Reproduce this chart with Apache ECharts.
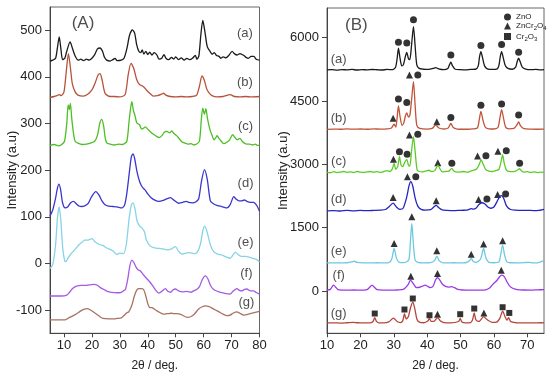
<!DOCTYPE html>
<html><head><meta charset="utf-8">
<script src="https://cdn.jsdelivr.net/npm/echarts@6/dist/echarts.min.js"></script>
<style>html,body{margin:0;padding:0;background:#fff}#c{width:550px;height:377px}</style>
</head><body><div id="c"></div>
<script>
// ---------- Panel A data ----------
const A_a = [[5,434],[6,436],[7,440],[7.6,460],[8.3,486],[8.9,460],[9.5,437],[10.3,440],[11,455],[12.2,475],[13,462],[14,445],[15.2,436],[16,438],[17,435],[18,438],[19,436],[20,440],[21,448],[22,460],[22.9,462],[23.8,455],[24.5,442],[25.3,436],[26.5,434],[27.5,437],[28.3,440],[29,435],[30.5,436],[31.5,440],[32.5,460],[33.5,490],[34.5,501],[35.3,494],[36,470],[36.8,455],[37.5,452],[38,458],[38.6,449],[39.3,455],[40,448],[40.7,453],[41.5,447],[42.3,452],[43.3,447],[44,438],[45,440],[45.8,448],[46.5,440],[47.5,437],[48.5,442],[49.3,438],[50,443],[51,437],[52,441],[53,436],[54,440],[55,437],[56,440],[57,446],[57.6,438],[58.3,445],[59,490],[59.7,521],[60.5,495],[61.3,465],[62.4,454],[63,449],[63.8,452],[64.6,446],[65.5,444],[66.2,440],[67,443],[68,441],[69,446],[70.2,455],[71,450],[72,447],[73,450],[74.4,446],[75.2,442],[76,440],[77,444],[78,444],[78.8,438],[80,436]];
const A_b = [[5,356],[6.5,358],[7.5,360],[8.3,362],[9,360],[10,368],[10.8,410],[11.6,450],[12.3,420],[13,385],[14,368],[15,361],[16.9,359],[18.5,363],[20,372],[21.1,386],[22.2,404],[22.9,407],[23.6,395],[24.7,365],[26.5,358],[28,358],[30,357],[31.9,362],[33,405],[34,429],[35,418],[36,395],[37,384],[38.5,379],[39.5,372],[40.9,364],[42,359],[43.5,360],[45,363],[45.6,365],[46.5,361],[48,358],[50,357],[52,358],[54,357],[56,358],[57.5,361],[58.5,380],[59.4,402],[60.3,392],[61,376],[61.8,367],[63,360],[64.8,357],[67,358],[69.5,362],[71,358],[73,357],[75,358],[77,357],[80,358]];
const A_c = [[5,253],[6.5,255],[8,252],[9.2,255],[10.2,262],[11,300],[11.5,340],[11.9,330],[12.3,343],[12.8,310],[13.5,275],[14,262],[15,258],[16.5,255],[18.1,256],[19.5,258],[21,262],[22,275],[22.8,300],[23.5,309],[24.2,295],[24.8,268],[25.4,258],[26.5,256],[28,254],[29.5,256],[31,255],[32.5,262],[33.3,305],[33.9,335],[34.3,347],[34.8,330],[35.5,315],[36.1,301],[37,298],[37.8,288],[38.5,290],[39.1,293],[40,288],[41,282],[42,277],[43.3,272],[44.2,270],[45.2,275],[46,282],[46.9,283],[47.8,280],[48.6,284],[49.3,279],[50.3,274],[51.2,268],[52.2,261],[53.3,258],[54.5,256],[55.5,257],[56.4,254],[57.5,256],[58.5,262],[59.2,310],[59.7,333],[60.3,320],[60.8,332],[61.4,310],[62.3,286],[63,275],[63.7,265],[64.4,270],[64.8,274],[65.5,268],[66.3,262],[67.2,257],[68.3,260],[69.3,265],[70.4,276],[71.2,270],[72,265],[73,268],[73.8,262],[74.6,258],[75.5,256],[76.5,256],[77.5,254],[78.5,256],[79.3,253],[80,253]];
const A_d = [[5,101],[6,115],[7,140],[7.6,160],[8.2,170],[8.8,158],[9.5,130],[10.4,119],[11.3,121],[12.4,130],[13.4,133],[14.4,128],[15.4,123],[16.4,122],[17.6,124],[18.6,128],[19.8,142],[21.4,154],[22.6,146],[23.6,134],[24.7,126],[26,123],[27.5,122],[29,121],[30.7,119],[31.7,125],[32.5,150],[33.5,200],[34.1,228],[34.7,235],[35.3,225],[36.2,195],[37.1,175],[37.9,165],[38.6,160],[39.1,157],[40,149],[41,142],[42.7,135],[44,133],[45.5,135],[47,139],[48.1,141],[49.5,135],[51,129],[52.5,131],[53.8,133],[54.6,131],[56,130],[57,131],[58.2,138],[59.2,175],[60.3,201],[61.3,180],[62.4,134],[63.5,128],[65,124],[66.5,122],[68.4,119],[69.5,126],[70.8,143],[71.6,138],[72.6,134],[73.6,134],[74.6,136],[75.5,133],[76.7,131],[77.9,131],[78.8,126],[79.4,120],[80,112]];
const A_e = [[5,-11],[6,-2],[7,40],[7.7,100],[8.3,121],[8.9,90],[9.6,30],[10.3,5],[10.7,4],[11.5,12],[12.4,20],[13.4,26],[14.4,33],[15.4,40],[16.4,45],[17.4,50],[18.6,50],[20,53],[21.2,46],[22.9,40],[24.1,38],[25.3,33],[26.5,30],[27.7,26],[28.9,19],[30,22],[31.3,21],[32.3,40],[33.3,95],[34.1,125],[34.7,130],[35.4,118],[36.2,90],[37.1,80],[37.9,76],[38.8,68],[39.5,50],[40.9,37],[42.5,33],[44,32],[45.6,31],[47,29],[48.5,31],[49.9,36],[51,26],[52.2,20],[53.5,22],[55,23],[56.5,21],[57.6,23],[58.8,40],[59.7,70],[60.4,80],[61.2,68],[62.4,40],[63.6,25],[65,20],[66.5,18],[68,14],[69.5,11],[70.5,18],[71.4,24],[72.4,19],[73.5,15],[74.9,15],[76.5,13],[78,10],[79,8],[80,3]];
const A_f = [[5,-70],[7,-70],[9,-70],[11,-68],[12,-62],[13.1,-54],[14.5,-49],[16,-47],[18,-47],[19.5,-46],[20.7,-45],[22,-47],[23,-52],[24.3,-56],[25.5,-60],[27,-62],[29,-63],[30.5,-62],[31.5,-58],[32,-56],[32.8,-35],[33.6,-5],[34.3,7],[35,2],[35.8,-8],[36.6,-14],[37.3,-16],[38.5,-25],[39.7,-33],[40.9,-41],[42.2,-52],[43.2,-60],[43.9,-64],[45,-60],[46.3,-54],[47.2,-60],[48.1,-62],[49,-57],[49.9,-55],[51,-59],[52.5,-61],[54,-60],[55.5,-62],[56.4,-59],[57.5,-56],[58.5,-50],[59.5,-35],[60.6,-27],[61.5,-33],[62.5,-48],[63.6,-56],[65,-60],[66.5,-63],[68,-65],[69.5,-66],[70.5,-60],[71.9,-54],[72.8,-58],[73.7,-59],[74.6,-56],[75.5,-55],[76.7,-59],[77.8,-59],[79,-63],[80,-66]];
const A_g = [[5,-121],[7,-121],[9,-121],[10.4,-121],[12,-116],[14,-110],[16,-102],[17.3,-98],[18.2,-97],[19.5,-100],[20.7,-105],[21.7,-109],[23,-115],[24,-118],[26,-119],[28,-119],[29,-118],[30.5,-117],[31.5,-112],[32.5,-106],[33.2,-104],[34.3,-90],[35.2,-70],[36,-58],[36.7,-54],[37.6,-54],[38.5,-56],[39.3,-70],[40.2,-90],[40.9,-95],[41.5,-95],[42.3,-98],[43.3,-102],[44.5,-106],[45.6,-109],[47,-108],[48.5,-107],[49.3,-108],[50.5,-108],[52,-110],[54.1,-116],[55.5,-114],[56.8,-108],[58.2,-98],[59.5,-93],[60.6,-91],[62,-93],[63,-96],[64.2,-100],[65.5,-104],[67,-109],[68.4,-112],[69.5,-111],[70.5,-107],[71.9,-104],[73,-107],[74.3,-111],[75.5,-110],[77,-107],[78.5,-105],[80,-103]];

// ---------- Panel B data ----------
const B_a = [[10,5234],[11.5,5240],[13,5228],[14.5,5240],[16,5236],[17.5,5245],[19,5232],[20.5,5240],[22,5236],[23.5,5244],[25,5238],[26.5,5232],[28,5245],[29.5,5240],[30.5,5290],[31,5500],[31.4,5749],[31.9,5500],[32.4,5330],[32.9,5360],[33.5,5560],[33.9,5647],[34.4,5500],[34.8,5480],[35.3,5800],[35.9,6261],[36.4,5800],[36.9,5355],[37.6,5270],[38.9,5250],[40.5,5245],[41.8,5270],[42.6,5290],[43.4,5260],[45,5240],[46.2,5270],[46.7,5360],[47.1,5416],[47.6,5330],[48.4,5250],[50,5240],[51.5,5236],[53,5245],[54.5,5250],[55.3,5330],[55.7,5550],[56.1,5668],[56.6,5520],[57.2,5330],[58,5260],[59.5,5245],[61,5260],[61.5,5340],[61.9,5550],[62.3,5668],[62.8,5520],[63.4,5340],[64.2,5270],[65.5,5250],[66.5,5300],[67,5440],[67.4,5510],[67.9,5420],[68.5,5300],[69.5,5255],[71,5240],[72.5,5245],[74,5236],[75,5240]];
const B_b = [[10,3829],[12,3835],[14,3830],[16,3838],[18,3832],[20,3836],[22,3830],[24,3838],[26,3834],[28,3840],[29.3,3860],[30.1,3950],[30.6,3880],[31,4100],[31.4,4381],[31.9,4120],[32.5,3920],[33,3980],[33.5,4150],[33.9,4215],[34.4,4120],[34.8,4150],[35.3,4500],[35.9,4957],[36.4,4400],[36.9,3920],[37.8,3850],[39.9,3832],[41.5,3850],[42.6,3929],[43.5,3860],[45,3836],[46.3,3860],[47.1,3966],[47.8,3870],[49,3835],[51,3830],[53,3835],[55,3860],[55.6,4050],[56.1,4255],[56.7,4050],[57.4,3880],[58.5,3840],[60,3836],[61.2,3870],[61.8,4100],[62.3,4294],[62.9,4080],[63.5,3880],[64.5,3840],[66,3850],[66.8,3920],[67.4,4002],[68,3910],[69,3845],[71,3832],[73,3830],[75,3832]];
const B_c = [[10,2810],[11,2800],[12,2825],[13,2805],[14,2815],[15,2830],[16,2810],[17,2820],[18,2805],[19,2830],[20,2815],[21,2808],[22,2822],[23,2830],[24,2812],[25,2826],[26,2810],[27,2830],[28,2850],[28.8,2830],[29.5,2880],[30.1,3023],[30.6,2880],[31.2,2950],[31.7,3181],[32.2,2980],[32.7,2944],[33.3,3050],[33.9,3118],[34.4,2980],[34.8,2960],[35.3,3300],[35.9,3654],[36.4,3300],[37,2860],[37.6,2830],[38.5,2820],[39.5,2840],[40.5,2860],[41.3,2830],[42.3,2850],[43.2,2983],[43.8,2900],[44.5,2820],[45.5,2830],[46.5,2840],[47.4,2904],[48,2840],[49,2815],[50,2820],[51,2830],[52,2810],[53,2840],[54,2860],[54.8,2890],[55.5,2980],[56.2,3102],[56.8,3000],[57.5,2880],[58.5,2840],[59.5,2830],[60.5,2850],[61.5,2880],[62.1,3050],[62.6,3220],[63.1,3020],[63.7,2870],[64.5,2830],[65.5,2825],[66.5,2840],[67.2,2870],[67.6,2900],[68.2,2850],[69,2815],[70,2825],[71,2810],[72,2820],[73,2805],[74,2815],[75,2810]];
const B_d = [[10,1900],[12,1905],[14,1895],[16,1908],[18,1900],[20,1910],[22,1902],[24,1908],[26,1915],[27.5,1930],[28.5,1990],[29.8,2080],[30.8,1990],[31.8,1935],[32.8,1960],[33.8,2200],[34.6,2500],[35.1,2590],[35.7,2480],[36.4,2200],[37.2,2010],[38.2,1935],[39.5,1915],[41,1925],[42,1990],[42.7,2030],[43.5,1970],[44.5,1920],[46,1910],[48,1905],[50,1912],[52,1915],[53.2,1950],[53.8,1940],[54.6,1960],[55.5,2050],[56.4,2090],[57.3,2060],[58.2,1990],[59,1960],[60,1990],[61,2130],[61.8,2240],[62.3,2260],[63,2180],[63.8,2010],[65,1930],[66.5,1915],[68,1908],[70,1912],[72,1905],[73.5,1910],[74.5,1925],[75,1935]];
const B_e = [[10,665],[12,668],[14,665],[16,670],[17.5,690],[18.2,705],[19,680],[21,668],[23,665],[25,670],[27,668],[28.5,675],[29.4,760],[30.1,1009],[30.8,780],[31.6,680],[33,672],[34.5,740],[35,1200],[35.4,1601],[35.8,1200],[36.4,730],[37.5,672],[39,668],[41,672],[42.2,720],[42.9,826],[43.6,720],[44.5,675],[46,668],[48,670],[50,665],[51.5,670],[52.6,710],[53.2,770],[53.8,700],[54.8,680],[56,760],[56.9,1009],[57.6,780],[58.5,680],[60,670],[61.5,690],[62,850],[62.6,1088],[63.2,850],[63.9,690],[65,670],[67,668],[69,672],[70.5,680],[71.5,668],[73,665],[74,690],[75,720]];
const B_f = [[10,20],[11,40],[11.6,110],[12,139],[12.6,90],[13.3,35],[14.5,22],[16,20],[18,25],[20,22],[22,35],[22.8,90],[23.5,139],[24.2,90],[25,35],[27,22],[29,20],[31,25],[33,45],[34.3,150],[35,258],[35.8,180],[36.8,80],[37.8,90],[38.7,120],[39.4,139],[40.2,110],[41,80],[41.8,120],[42.5,260],[43.1,321],[43.8,260],[44.6,160],[45.5,110],[46.5,95],[47.3,105],[48.2,80],[49.2,40],[50.5,25],[52,22],[54,20],[56,22],[57.5,30],[58.8,80],[59.9,180],[60.9,250],[61.7,340],[62.4,376],[63.1,340],[63.9,220],[64.8,110],[65.8,60],[67,35],[69,25],[71,22],[73,28],[75,35]];
const B_g = [[10,-755],[12,-752],[14,-758],[16,-750],[18,-740],[19,-750],[21,-755],[23,-752],[23.8,-720],[24.3,-627],[24.8,-720],[25.5,-752],[27,-755],[28.5,-730],[29.9,-640],[31,-720],[32,-745],[32.7,-700],[33.2,-532],[33.7,-660],[34.4,-600],[35,-400],[35.7,-257],[36.3,-420],[37,-680],[37.8,-740],[39,-750],[40.2,-710],[40.7,-650],[41.2,-720],[42,-720],[43.1,-627],[44,-710],[45,-745],[47,-752],[49.4,-720],[49.9,-650],[50.4,-730],[51.5,-752],[53,-745],[53.6,-680],[54.1,-518],[54.6,-680],[55.5,-720],[56.9,-605],[58,-680],[59.5,-740],[60.8,-735],[61.8,-640],[62.6,-474],[63.4,-620],[63.9,-690],[64.4,-627],[65,-720],[66.5,-750],[68,-755],[70,-752],[72,-755],[74,-750],[75,-752]];

// phase markers (panel B)
const ZnO = [[31.4,5890],[33.9,5869],[35.9,6420],[47.1,5585],[56.1,5814],[62.3,5838],[67.4,5655],
  [31.4,4545],[33.9,4466],[37.2,5116],[47.1,4107],[56.1,4400],[62.3,4426],[67.4,4165],
  [31.7,3300],[34,3237],[37.2,3710],[47.4,3023],[57.6,3205],[63.7,3323],[67.7,3023],
  [36.6,2706],[57.9,2178],[63.5,2296]];
const ZnCr2O4 = [[29.8,4090],[34.7,5116],[42.9,4010],
  [29.9,3118],[34.7,3694],[43.2,3038],[55.1,3196],[61.2,3307],
  [29.8,2217],[34.1,2706],[42.7,2138],[55.4,2170],[61.1,2288],
  [30.1,1127],[35.4,1758],[42.9,953],[53.2,874],[56.9,1111],[62.6,1190],
  [35.1,352],[43.1,415],[62.2,494],
  [43.1,-548],[57,-518]];
const Cr2O3 = [[24.3,-532],[33.2,-437],[35.7,-177],[40.7,-573],[49.9,-548],[54.1,-414],[62.6,-383],[64.6,-518]];

// curve labels
const curveNames = ['(a)','(b)','(c)','(d)','(e)','(f)','(g)'];
const labelAnchorA = [[74.8,493],[74.8,389],[75,293],[75,171],[75,45],[75.3,-22],[75.3,-84]];
const labelAnchorB = [[13.5,5472],[13.5,4090],[13.5,3061],[13.5,2170],[13.5,928],[13.5,376],[13.5,-532]];

// ticks
const ticksAX = [10,20,30,40,50,60,70,80];
const ticksAY = [-100,0,100,200,300,400,500];
const ticksBX = [10,20,30,40,50,60,70];
const ticksBY = [0,1500,3000,4500,6000];

const colorsA = ['#1a1a1a','#b5533c','#4cbf22','#3a35cc','#86d4e6','#a45ce0','#a87262'];
const colorsB = ['#1a1a1a','#c0543a','#5ccb2a','#2525c4','#6cc9e2','#9a3ae6','#b4463a'];

const FONT = 'Liberation Sans, Arial, sans-serif';
const chart = echarts.init(document.getElementById('c'), null, {renderer:'canvas'});

function xAx(gi, min, max, ticks){
  return {type:'value', gridIndex:gi, min, max,
    name:'2θ / deg.', nameLocation:'middle', nameGap:26, nameMoveOverlap:false,
    nameTextStyle:{fontFamily:FONT,fontSize:12,color:'#222'},
    axisLine:{show:true,onZero:false,lineStyle:{color:'#444',width:1}},
    axisTick:{show:true,length:4,customValues:ticks,lineStyle:{color:'#444'}},
    axisLabel:{customValues:ticks,formatter:v=>String(v),fontFamily:FONT,fontSize:13,color:'#222',margin:6},
    splitLine:{show:false}};
}
function yAx(gi, min, max, ticks, gap){
  return {type:'value', gridIndex:gi, min, max,
    name:'Intensity (a.u)', nameLocation:'middle', nameGap:gap, nameRotate:90, nameMoveOverlap:false,
    nameTextStyle:{fontFamily:FONT,fontSize:13,color:'#222'},
    axisLine:{show:true,onZero:false,lineStyle:{color:'#444',width:1}},
    axisTick:{show:true,length:5,customValues:ticks,lineStyle:{color:'#444'}},
    axisLabel:{customValues:ticks,formatter:v=>String(v),fontFamily:FONT,fontSize:13,color:'#222',margin:8},
    splitLine:{show:false}};
}

const series = [];
[A_a,A_b,A_c,A_d,A_e,A_f,A_g].forEach((d,i)=>series.push({type:'line',xAxisIndex:0,yAxisIndex:0,data:d,
  showSymbol:false,smooth:0.25,lineStyle:{color:colorsA[i],width:1.3},silent:true}));
[B_a,B_b,B_c,B_d,B_e,B_f,B_g].forEach((d,i)=>series.push({type:'line',xAxisIndex:1,yAxisIndex:1,data:d,
  showSymbol:false,smooth:0.25,lineStyle:{color:colorsB[i],width:1.3},silent:true}));
series.push({name:'ZnO',type:'scatter',xAxisIndex:1,yAxisIndex:1,data:ZnO,symbol:'circle',symbolSize:7,itemStyle:{color:'#000'}});
series.push({name:'ZnCr2O4',type:'scatter',xAxisIndex:1,yAxisIndex:1,data:ZnCr2O4,symbol:'triangle',symbolSize:7,itemStyle:{color:'#000'}});
series.push({name:'Cr2O3',type:'scatter',xAxisIndex:1,yAxisIndex:1,data:Cr2O3,symbol:'rect',symbolSize:6,itemStyle:{color:'#000'}});
const lblStyle = {show:true,position:'inside',fontFamily:FONT,fontSize:13,color:'#222',formatter:p=>p.name};
series.push({type:'scatter',xAxisIndex:0,yAxisIndex:0,symbolSize:0,silent:true,
  data:curveNames.map((n,i)=>({name:n,value:labelAnchorA[i]})).concat([{name:'(A)',value:[16.8,515],label:{fontSize:17}}]),
  label:lblStyle});
series.push({type:'scatter',xAxisIndex:1,yAxisIndex:1,symbolSize:0,silent:true,
  data:curveNames.map((n,i)=>({name:n,value:labelAnchorB[i]})).concat([{name:'(B)',value:[18.8,6300],label:{fontSize:17}}]),
  label:lblStyle});

const legendText = {'ZnO':'{t|ZnO}','ZnCr2O4':'{t|ZnCr}{s|2}{t|O}{s|4}','Cr2O3':'{t|Cr}{s|2}{t|O}{s|3}'};

chart.setOption({
  animation:false,
  backgroundColor:'#fff',
  grid:[
    {left:50, top:7, width:209.5, height:326.3, show:true, borderColor:'#666', borderWidth:1, backgroundColor:'transparent'},
    {left:327, top:8, width:217, height:325.3, show:true, borderColor:'#666', borderWidth:1, backgroundColor:'transparent'}
  ],
  xAxis:[xAx(0,5,80,ticksAX), xAx(1,10,75,ticksBX)],
  yAxis:[yAx(0,-150,550,ticksAY,31), yAx(1,-1000,6700,ticksBY,37)],
  legend:{data:['ZnO','ZnCr2O4','Cr2O3'], orient:'vertical', left:499, top:8, itemWidth:7, itemHeight:7, itemGap:1,
    formatter:n=>legendText[n],
    textStyle:{fontFamily:FONT,fontSize:8,color:'#222',rich:{t:{fontSize:8,fontFamily:FONT,color:'#222'},s:{fontSize:6,fontFamily:FONT,color:'#222',padding:[5,0,0,0]}}}},
  series
});
</script></body></html>
